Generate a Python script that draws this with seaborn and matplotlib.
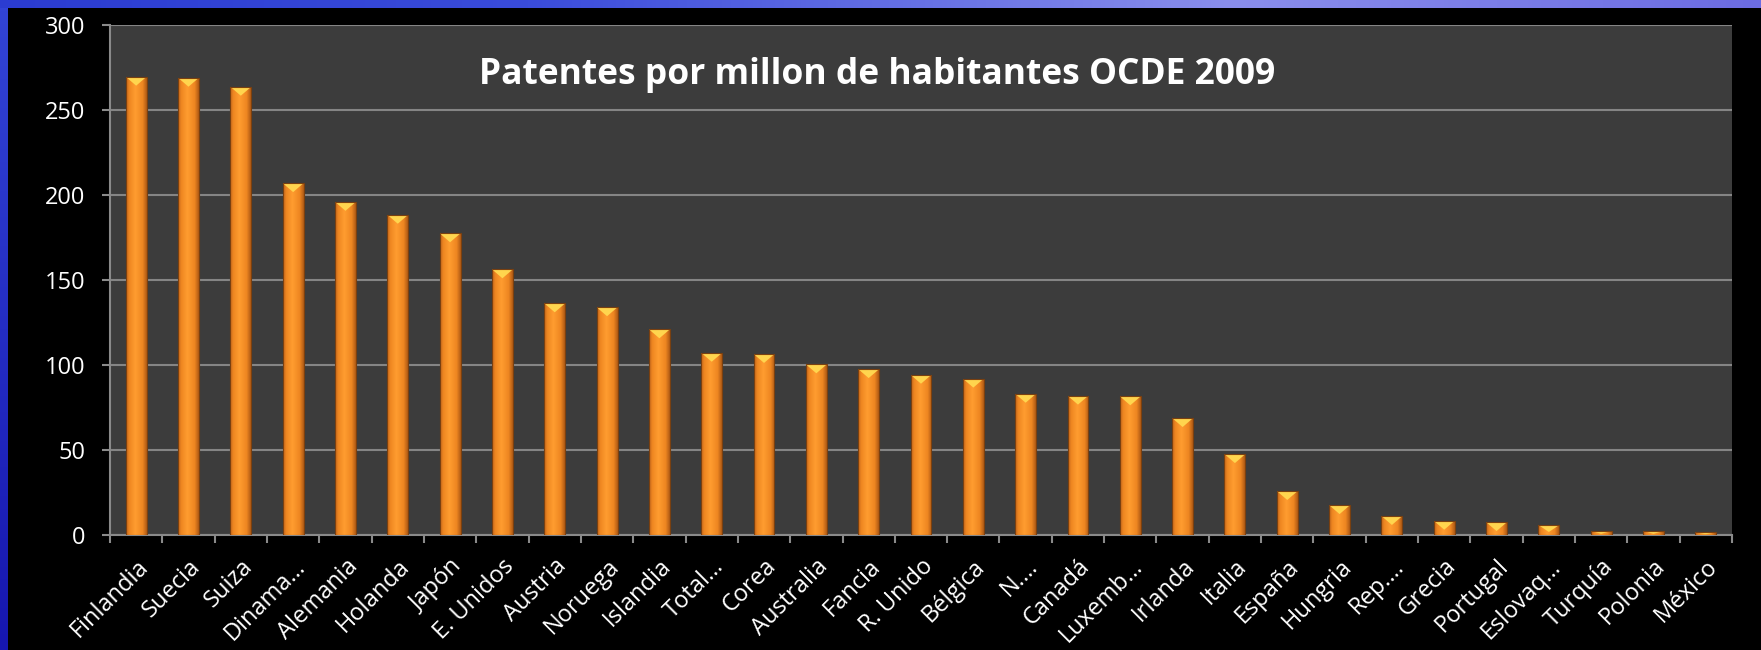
import numpy as np
import pandas as pd
import matplotlib
matplotlib.use("Agg")
import matplotlib.pyplot as plt
import seaborn as sns
from matplotlib.colors import to_rgb
from matplotlib.patches import Polygon

# Patentes por millón de habitantes, países OCDE, 2009
paises = ["Finlandia", "Suecia", "Suiza", "Dinama…", "Alemania", "Holanda",
          "Japón", "E. Unidos", "Austria", "Noruega", "Islandia", "Total…",
          "Corea", "Australia", "Fancia", "R. Unido", "Bélgica", "N.…",
          "Canadá", "Luxemb…", "Irlanda", "Italia", "España", "Hungria",
          "Rep.…", "Grecia", "Portugal", "Eslovaq…", "Turquía", "Polonia",
          "México"]
patentes = [269.6, 269.0, 263.7, 207.0, 196.0, 188.4, 177.5, 156.3, 136.3,
            134.0, 121.0, 107.2, 106.5, 100.4, 97.6, 94.3, 92.0, 83.1, 82.0,
            81.6, 68.8, 47.6, 25.9, 17.6, 11.2, 8.4, 7.6, 5.9, 2.4, 2.4, 1.6]
marcas_y = [0, 50, 100, 150, 200, 250, 300]
titulo = "Patentes por millon de habitantes OCDE 2009"

sns.set_theme(style="dark")
plt.rcParams['font.family'] = ['Open Sans', 'DejaVu Sans']

W, H = 1761, 650
fig = plt.figure(figsize=(W / 100, H / 100), dpi=100, facecolor='black')

# blue slide frame (top and left strips)
top = fig.add_axes([0, 1 - 8 / H, 1, 8 / H])
stops = [(0.0, '#2b3cd2'), (0.3, '#3a4cda'), (0.7, '#8a8eec'), (1.0, '#6c6ce2')]
xs = np.linspace(0, 1, 400)
row = np.array([[np.interp(x, [s[0] for s in stops], [to_rgb(s[1])[k] for s in stops])
                 for k in range(3)] for x in xs])
top.imshow(row[np.newaxis, :, :], aspect='auto', extent=[0, 1, 0, 1])
top.set_axis_off()

left = fig.add_axes([0, 0, 8 / W, 1 - 8 / H])
ys = np.linspace(0, 1, 200)
c0, c1 = np.array(to_rgb('#3244d6')), np.array(to_rgb('#1616b0'))
col = np.array([c0 * (1 - t) + c1 * t for t in ys])
left.imshow(col[:, np.newaxis, :], aspect='auto', extent=[0, 1, 0, 1])
left.set_axis_off()

# main plot area
ax = fig.add_axes([110 / W, 1 - 535 / H, (1732 - 110) / W, (535 - 25) / H])
ax.set_facecolor('#3c3c3c')

df = pd.DataFrame({'pais': paises, 'valor': patentes})
sns.barplot(data=df, x='pais', y='valor', color='#f7901e', width=0.4,
            saturation=1, edgecolor='#7a4010', linewidth=0.8, ax=ax, zorder=3)

ax.set_xlim(-0.5, len(paises) - 0.5)
ax.set_ylim(0, 300)

# shaded cylinder look for each bar, with a bevel at the top
prof_x = [0.0, 0.15, 0.45, 0.8, 1.0]
prof_c = ['#c0641a', '#ee8621', '#ff9d30', '#ee8621', '#b05a14']
gx = np.linspace(0, 1, 64)
grad = np.array([[np.interp(x, prof_x, [to_rgb(c)[k] for c in prof_c])
                  for k in range(3)] for x in gx])[np.newaxis, :, :]
px_per_unit = (535 - 25) / 300
bevel = 9 / px_per_unit
for p in list(ax.patches):
    x0, w, h = p.get_x(), p.get_width(), p.get_height()
    im = ax.imshow(grad, extent=[x0, x0 + w, 0, h], aspect='auto', zorder=3.2)
    im.set_clip_path(p)
    bh = min(bevel, h * 0.7)
    tri = Polygon([[x0, h], [x0 + w, h], [x0 + w / 2, h - bh]],
                  closed=True, facecolor='#ffd54e', edgecolor='none', zorder=3.4)
    ax.add_patch(tri)
    tri.set_clip_path(p)
    p.set_facecolor('none')
    p.set_zorder(3.6)

ax.set_xlim(-0.5, len(paises) - 0.5)
ax.set_ylim(0, 300)
ax.set_aspect('auto')

ax.set_axisbelow(True)
ax.yaxis.grid(True, color='#858585', linewidth=1.5)
ax.xaxis.grid(False)
for s in ['top', 'right']:
    ax.spines[s].set_visible(False)
for s in ['left', 'bottom']:
    ax.spines[s].set_visible(True)
    ax.spines[s].set_color('#8a8a8a')
    ax.spines[s].set_linewidth(1.5)

ax.set_yticks(marcas_y)
ax.tick_params(axis='y', left=True, length=6, width=1.5, color='#8a8a8a',
               labelcolor='white', labelsize=17, pad=12)

ax.set_xticks(range(len(paises)))
ax.set_xticklabels(paises, rotation=45, ha='right', rotation_mode='anchor',
                   color='white', fontsize=17)
ax.set_xticks(np.arange(-0.5, len(paises), 1), minor=True)
ax.tick_params(axis='x', which='major', bottom=True, length=0, pad=14)
ax.tick_params(axis='x', which='minor', bottom=True, length=6, width=1.5,
               color='#8a8a8a')
ax.set_xlabel('')
ax.set_ylabel('')

fig.text(877 / W, 1 - 75 / H, titulo, ha='center', va='center', color='white',
         fontsize=25.5, fontweight='bold')

fig.savefig('out.png', dpi=100, facecolor='black')
